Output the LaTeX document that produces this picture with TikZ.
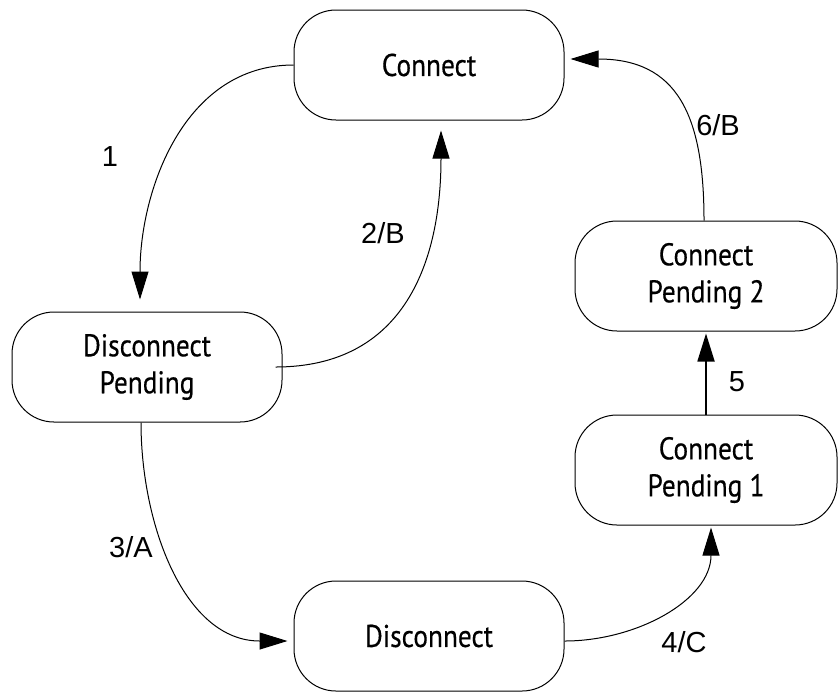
\documentclass[tikz,border=0pt]{standalone}
\usepackage{fontspec}
\setmainfont{Liberation Sans}
\newfontfamily\statefont[FakeStretch=0.87, FakeBold=0.4]{PT Sans}
\usetikzlibrary{arrows.meta}

\tikzset{
  state/.style={draw, line width=0.5pt, rounded corners=21pt, minimum width=135pt,
    minimum height=55pt, align=center, font=\statefont\fontsize{15.7}{18.5}\selectfont},
  trans/.style={line width=0.5pt, -{Triangle[length=14pt,width=8.5pt]}},
  lbl/.style={font=\fontsize{14.5}{16}\selectfont}
}

\begin{document}
\begin{tikzpicture}[x=0.5pt, y=-0.5pt]
\useasboundingbox (0,0) rectangle (838,691);
\node[state] (C) at (429,65) {Connect};
\node[state] (DP) at (147,367) {Disconnect\\Pending};
\node[state, minimum width=131pt] (CP2) at (706,276) {Connect\\Pending 2};
\node[state, minimum width=131pt] (CP1) at (706,470) {Connect\\Pending 1};
\node[state] (D) at (429,636) {Disconnect};
\draw[trans] (C.west) to[out=180, in=90] ([xshift=-3.5pt, yshift=6pt]DP.north);
\draw[trans] ([xshift=-3.5pt]DP.east) to[out=0, in=-90, looseness=1.15] ([xshift=6pt, yshift=-5pt]C.south);
\draw[trans] ([xshift=-1pt]CP2.north) to[out=90, in=0, looseness=1.3] ([xshift=3pt, yshift=3pt]C.east);
\draw[trans, line width=0.9pt] (CP1.north) -- ([yshift=-1pt]CP2.south);
\draw[trans] ([xshift=-3pt]DP.south) to[out=-90, in=180] ([xshift=-3pt, yshift=-2.5pt]D.west);
\draw[trans] ([yshift=-2.5pt]D.east) to[out=0, in=-90] ([xshift=2.5pt, yshift=-1pt]CP1.south);
\node[lbl] (l1) at (110,157) {1};
\node[lbl] (l2) at (383,233) {2/B};
\node[lbl] (l3) at (131,547) {3/A};
\node[lbl] (l4) at (684,642) {4/C};
\node[lbl] (l5) at (737,382) {5};
\node[lbl] (l6) at (718,125) {6/B};
\end{tikzpicture}
\end{document}
